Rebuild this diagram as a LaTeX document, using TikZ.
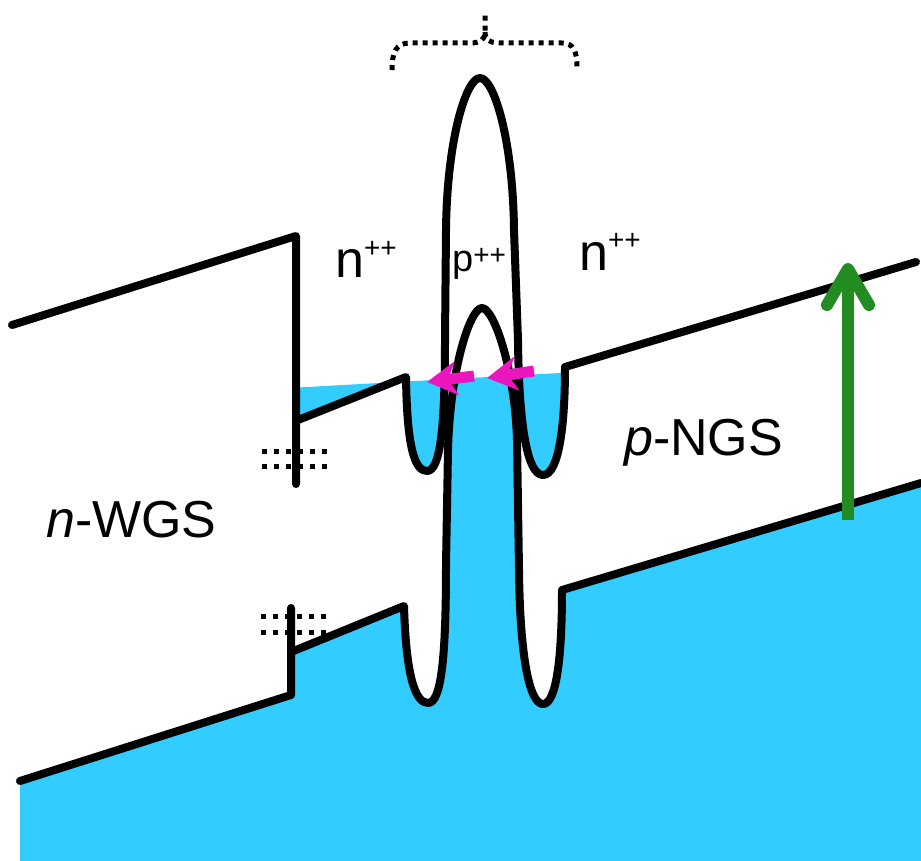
\documentclass[tikz,border=0pt]{standalone}
\usepackage{fontspec}
\setmainfont{Liberation Sans}
\usetikzlibrary{arrows.meta}

\definecolor{electron}{RGB}{51,204,255}
\definecolor{transfer}{RGB}{236,22,190}
\definecolor{gapgreen}{RGB}{34,139,34}

% band edges of the junction (pixel units, y downwards)
\newcommand{\cbcurve}{(298,420) -- (406,377)
  .. controls (407,445) and (414,471) .. (427,471)
  .. controls (440,471) and (445,430) .. (445,340)}
\newcommand{\cbright}{(518,340)
  .. controls (519,430) and (528,475) .. (543,475)
  .. controls (558,475) and (565,430) .. (565,367)}
\newcommand{\vbcurve}{(291,652) -- (404,606)
  .. controls (406,675) and (415,703) .. (428,703)
  .. controls (441,703) and (446,660) .. (446,565)
  -- (448,450)
  .. controls (450,370) and (470,308) .. (482,308)
  .. controls (494,308) and (515,370) .. (517,440)
  -- (519,570)
  .. controls (520,660) and (530,704) .. (543,704)
  .. controls (556,704) and (562,660) .. (562,590)
  -- (921,483)}
\newcommand{\plustwo}[1]{\raisebox{#1}{\fontsize{28}{30}\selectfont ++}}

\begin{document}
\begin{tikzpicture}[
    x=1pt, y=-1pt,
    band/.style={line width=8pt, line join=round, line cap=round},
    filled/.style={fill=electron},
    trap/.style={line width=5pt, dash pattern=on 5pt off 7pt},
    brace/.style={line width=5pt, dash pattern=on 5pt off 5pt},
    hop/.style={transfer, line width=11pt, -{Stealth[length=30pt, width=34pt, inset=9pt]}},
    photon/.style={gapgreen, line width=12pt, -{Straight Barb[length=36pt, width=42pt, round]}},
    region/.style={font=\fontsize{52}{60}\selectfont, inner sep=0pt, anchor=base west},
    thin/.style={font=\fontsize{38}{44}\selectfont, inner sep=0pt, anchor=base west}
]
\useasboundingbox (0,0) rectangle (921,861);

% filled states below the Fermi level
\begin{scope}
\clip (0,404) -- (921,353) -- (921,861) -- (0,861) -- cycle;
\fill[filled] (20,781) -- (291,695) -- \vbcurve -- (921,861) -- (20,861) -- cycle;
\fill[filled] (298,330) -- \cbcurve -- \cbright -- (565,330) -- cycle;
\end{scope}

% conduction band
\draw[band] (12,325) -- (296,236) -- (296,484);
\draw[band] \cbcurve -- (446,230)
  .. controls (447,140) and (466,78) .. (480,78)
  .. controls (494,78) and (513,140) .. (514,230)
  -- \cbright -- (916,262);

% valence band
\draw[band] (20,781) -- (291,695) -- (291,608);
\draw[band] \vbcurve;

% interface states
\draw[trap] (262,451) -- (330,451);
\draw[trap] (262,466) -- (330,466);
\draw[trap] (261,616) -- (329,616);
\draw[trap] (261,632) -- (329,632);

% brace over the tunnel junction
\draw[brace] (392,70) .. controls (392,52) and (396,43) .. (410,43) -- (470,43)
  .. controls (480,43) and (485,40) .. (485,32) -- (485,14);
\draw[brace] (485,32) .. controls (485,40) and (490,43) .. (500,43) -- (562,43)
  .. controls (574,43) and (577,52) .. (577,68);

% labels
\node[region] (nleft) at (335,277) {n\plustwo{20pt}};
\node[thin] (pmid) at (452,272) {p\plustwo{7pt}};
\node[region] (nright) at (579,270) {n\plustwo{21pt}};
\node[region] (wgs) at (46,537) {\textit{n}-WGS};
\node[region] (ngs) at (624,455) {\textit{p}-NGS};

% tunnelling electrons
\coordinate (hopA) at (474,376);
\coordinate (hopAend) at (427,382);
\coordinate (hopB) at (534,371);
\coordinate (hopBend) at (487,378);
\draw[hop] (hopA) -- (hopAend);
\draw[hop] (hopB) -- (hopBend);

% photon energy
\coordinate (lowE) at (848,520);
\coordinate (highE) at (848,263);
\draw[photon] (lowE) -- (highE);

\end{tikzpicture}
\end{document}
